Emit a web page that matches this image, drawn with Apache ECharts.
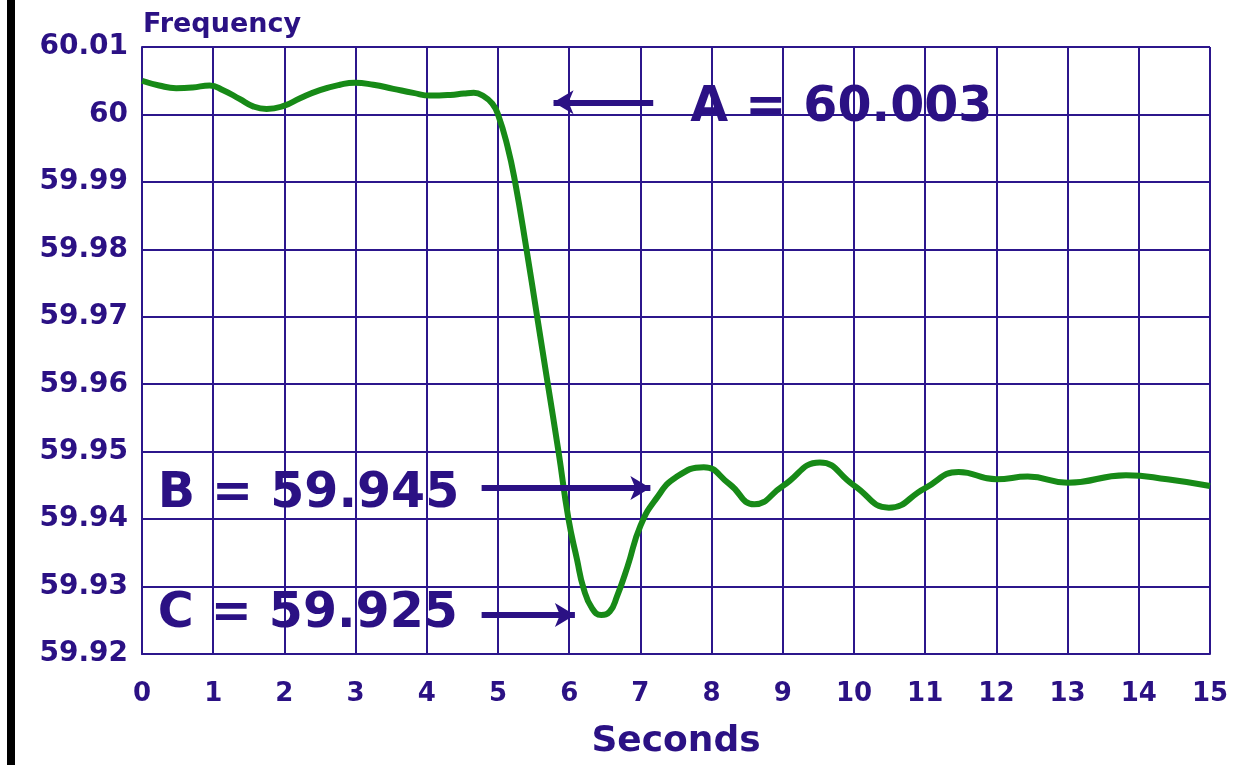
<!DOCTYPE html>
<html>
<head>
<meta charset="utf-8">
<script src="https://cdn.jsdelivr.net/npm/echarts@6/dist/echarts.min.js"></script>
<style>
html,body{margin:0;padding:0;background:#fff;}
#main{width:1244px;height:765px;}
</style>
</head>
<body>
<div id="main"></div>
<script>
// Time (seconds) and frequency (Hz)
var seconds = [0, 0.24, 0.48, 0.71, 0.95, 1.14, 1.37, 1.56, 1.75, 2.0, 2.22, 2.5, 2.78, 2.99, 3.25, 3.53, 3.81, 4.05, 4.33, 4.52, 4.66, 4.8, 4.92,
  5.0, 5.13, 5.24, 5.4, 5.55, 5.7, 5.85, 5.99, 6.11, 6.2, 6.32, 6.45, 6.57, 6.67, 6.82, 7.0, 7.22,
  7.5, 7.89, 8.25, 8.6, 9.0, 9.52, 10.0, 10.49, 11.0, 11.47, 12.0, 12.44, 13.0, 13.82, 14.4, 15.0];
var frequency = [60.0050, 60.0043, 60.0039, 60.0040, 60.0043, 60.0036, 60.0023, 60.0012, 60.0008, 60.0013, 60.0024, 60.0036, 60.0044, 60.0047, 60.0044, 60.0038, 60.0032, 60.0028, 60.0029, 60.0031, 60.0032, 60.0027, 60.0016,
  60.0000, 59.9954, 59.9900, 59.9800, 59.9700, 59.9600, 59.9500, 59.9400, 59.9340, 59.9298, 59.9268, 59.9258, 59.9263, 59.9285, 59.9330, 59.9390, 59.9430,
  59.9462, 59.9477, 59.9452, 59.9422, 59.9449, 59.9484, 59.9450, 59.9417, 59.9446, 59.9470, 59.9459, 59.9463, 59.9454, 59.9465, 59.9459, 59.9449];
var annotationLabels = ['A = 60.003', 'B = 59.945', 'C = 59.925'];
var xTicks = {min: 0, max: 15, step: 1};
var yTicks = {min: 59.92, max: 60.01, step: 0.01};

var ink = '#2b1184';
var gridColor = '#2c168c';
var pts = seconds.map(function (t, i) { return [t, frequency[i]]; });

var chart = echarts.init(document.getElementById('main'), null, {renderer: 'canvas'});
chart.setOption({
  backgroundColor: '#ffffff',
  animation: false,
  title: {
    text: 'Frequency', left: 138, top: 6,
    textStyle: {fontFamily: 'DejaVu Sans', fontWeight: 'bold', fontSize: 27, color: ink}
  },
  graphic: [{type: 'rect', left: 7, top: 0, shape: {width: 8, height: 765}, style: {fill: '#000'}}],
  grid: {left: 142, right: 34, top: 47, bottom: 110},
  xAxis: {
    type: 'value', min: xTicks.min, max: xTicks.max, interval: xTicks.step,
    name: 'Seconds', nameLocation: 'middle', nameGap: 70,
    nameTextStyle: {fontFamily: 'DejaVu Sans', fontWeight: 'bold', fontSize: 36, color: ink},
    axisLine: {show: true, lineStyle: {color: gridColor, width: 2}},
    axisTick: {show: false},
    axisLabel: {margin: 27, fontFamily: 'DejaVu Sans', fontWeight: 'bold', fontSize: 26, color: ink},
    splitLine: {show: true, lineStyle: {color: gridColor, width: 2}}
  },
  yAxis: {
    type: 'value', min: yTicks.min, max: yTicks.max, interval: yTicks.step,
    axisLine: {show: true, lineStyle: {color: gridColor, width: 2}},
    axisTick: {show: false},
    axisLabel: {margin: 14, padding: [6, 0, 0, 0], fontFamily: 'DejaVu Sans', fontWeight: 'bold', fontSize: 28, color: ink,
      formatter: function (v) { return String(parseFloat(v.toFixed(2))); }},
    splitLine: {show: true, lineStyle: {color: gridColor, width: 2}}
  },
  series: [{
    type: 'line', data: pts, smooth: 0.5, showSymbol: false,
    lineStyle: {color: '#178a17', width: 6},
    markLine: {
      silent: true, animation: false,
      lineStyle: {color: ink, width: 6, type: 'solid'},
      label: {show: false},
      symbolSize: [18, 20],
      data: [
        [{coord: [5.78, 60.0018], symbol: 'arrow'}, {coord: [7.18, 60.0018], symbol: 'none'}],
        [{coord: [4.77, 59.9446], symbol: 'none'}, {coord: [7.14, 59.9446], symbol: 'arrow'}],
        [{coord: [4.77, 59.9258], symbol: 'none'}, {coord: [6.08, 59.9258], symbol: 'arrow'}]
      ]
    },
    markPoint: {
      silent: true, animation: false, symbol: 'circle', symbolSize: 0,
      label: {show: true, position: 'right', distance: 0, color: ink,
        fontFamily: 'DejaVu Sans', fontWeight: 'bold', fontSize: 49,
        formatter: function (p) { return p.name; }},
      data: [
        {name: annotationLabels[0], coord: [7.70, 60.0009]},
        {name: annotationLabels[1], coord: [0.22, 59.9437]},
        {name: annotationLabels[2], coord: [0.22, 59.9259]}
      ]
    }
  }]
});
</script>
</body>
</html>
